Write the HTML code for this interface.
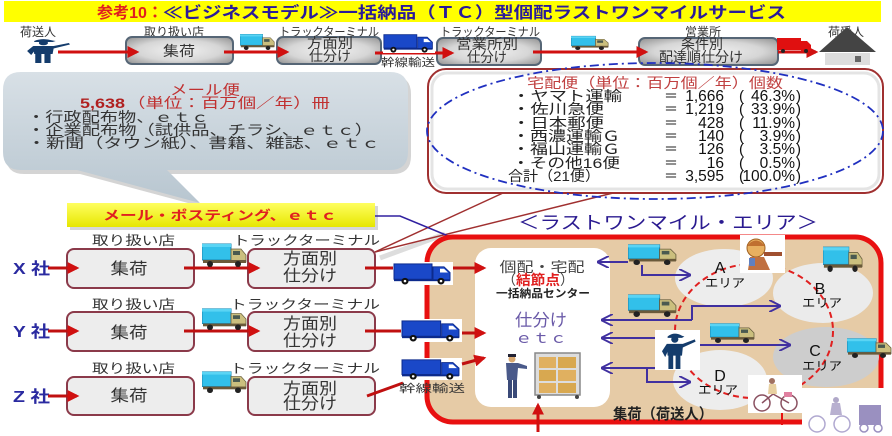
<!DOCTYPE html>
<html><head><meta charset="utf-8"><style>
html,body{margin:0;padding:0;background:#fff;}
svg{display:block;}
text{font-family:"Liberation Sans","Noto Sans CJK JP",sans-serif;}
</style></head><body>
<svg width="892" height="436" viewBox="0 0 892 436" xmlns="http://www.w3.org/2000/svg">
<defs>
  <radialGradient id="gbox" cx="50%" cy="50%" r="65%">
    <stop offset="0" stop-color="#f2f2f2"/><stop offset="0.6" stop-color="#d6d6d6"/><stop offset="1" stop-color="#9a9a9a"/>
  </radialGradient>
  <linearGradient id="gbub" x1="0" y1="0" x2="0" y2="1">
    <stop offset="0" stop-color="#d8e0e6"/><stop offset="1" stop-color="#b8c6d0"/>
  </linearGradient>
  <linearGradient id="gyel" x1="0" y1="0" x2="0" y2="1">
    <stop offset="0" stop-color="#ffff60"/><stop offset="1" stop-color="#e6e600"/>
  </linearGradient>
  <marker id="ar" viewBox="0 0 10 10" refX="8" refY="5" markerWidth="4" markerHeight="4" orient="auto-start-reverse">
    <path d="M0,0 L10,5 L0,10 Z" fill="#d01010"/>
  </marker>
  <marker id="ap" viewBox="0 0 10 10" refX="9" refY="5" markerWidth="6" markerHeight="6" orient="auto-start-reverse">
    <path d="M0,0 L10,5 L0,10" fill="none" stroke="#4030a0" stroke-width="1.6"/>
  </marker>
  <symbol id="ctruck" viewBox="0 0 45 25" preserveAspectRatio="none">
    <rect x="0" y="2" width="29" height="16" fill="#32c0ea" stroke="#1a86b0" stroke-width="1"/>
    <rect x="0" y="2" width="29" height="3" fill="#5ad4f4"/>
    <path d="M29,7 H39 L44,13 V20 H29 Z" fill="#cbbf7e" stroke="#6a6040" stroke-width="0.8"/>
    <rect x="31" y="9" width="7" height="4" fill="#4a5a50"/>
    <rect x="1" y="18" width="43" height="3" fill="#6a5a3a"/>
    <circle cx="8" cy="22" r="3" fill="#222"/><circle cx="36" cy="22" r="3" fill="#222"/>
  </symbol>
  <symbol id="btruck" viewBox="0 0 60 24" preserveAspectRatio="none">
    <rect x="0" y="0" width="60" height="24" fill="#fff"/>
    <rect x="1" y="2" width="38" height="16" fill="#1a48c8" stroke="#0c2a8c" stroke-width="1"/>
    <path d="M40,5 H51 L57,11 V19 H40 Z" fill="#1a48c8" stroke="#0c2a8c" stroke-width="1"/>
    <path d="M47,7 H51 L55,11 H47 Z" fill="#fff"/>
    <rect x="1" y="18" width="56" height="2" fill="#0c2a8c"/>
    <circle cx="12" cy="20" r="3.5" fill="#111"/><circle cx="12" cy="20" r="1.3" fill="#fff"/>
    <circle cx="48" cy="20" r="3.5" fill="#111"/><circle cx="48" cy="20" r="1.3" fill="#fff"/>
  </symbol>
  <symbol id="person" viewBox="0 0 50 50" preserveAspectRatio="none">
    <path d="M12,6 Q20,-1 30,5 L33,6 L30,8 L12,8 Z" fill="#143c6c"/>
    <circle cx="21" cy="10" r="4.5" fill="#143c6c"/>
    <path d="M11,16 H31 L46,10 L47,13 L31,21 L30,32 H12 Z" fill="#143c6c"/>
    <path d="M11,16 L5,26 L9,34 L13,24 Z" fill="#143c6c"/>
    <rect x="13" y="31" width="6" height="19" fill="#143c6c"/>
    <rect x="22" y="31" width="6" height="19" fill="#143c6c"/>
  </symbol>
</defs>

<!-- Title -->
<rect x="4" y="1" width="877" height="21" fill="#ffff00"/>
<text x="97" y="18" font-size="16" font-weight="bold" fill="#e02020" textLength="66" lengthAdjust="spacingAndGlyphs">参考10：</text>
<text x="163" y="18" font-size="16" font-weight="bold" fill="#2a1a9a" textLength="623" lengthAdjust="spacingAndGlyphs">≪ビジネスモデル≫一括納品（ＴＣ）型個配ラストワンマイルサービス</text>

<!-- Top flow -->
<g font-size="12" fill="#333" text-anchor="middle">
  <text x="38" y="36">荷送人</text>
  <text x="174" y="36" textLength="60" lengthAdjust="spacingAndGlyphs">取り扱い店</text>
  <text x="329" y="36" textLength="100" lengthAdjust="spacingAndGlyphs">トラックターミナル</text>
  <text x="490" y="36" textLength="100" lengthAdjust="spacingAndGlyphs">トラックターミナル</text>
  <text x="703" y="36">営業所</text>
  <text x="846" y="36">荷受人</text>
</g>
<use href="#person" x="22" y="38" width="51" height="25"/>
<rect x="126" y="37" width="107" height="27" rx="6" fill="url(#gbox)" stroke="#566676" stroke-width="2"/>
<rect x="277" y="37" width="104" height="27" rx="6" fill="url(#gbox)" stroke="#566676" stroke-width="2"/>
<rect x="437" y="38" width="104" height="27" rx="6" fill="url(#gbox)" stroke="#566676" stroke-width="2"/>
<rect x="639" y="38" width="139" height="27" rx="6" fill="url(#gbox)" stroke="#566676" stroke-width="2"/>
<g font-size="14" fill="#333" text-anchor="middle">
  <text x="179" y="56" textLength="32" lengthAdjust="spacingAndGlyphs">集荷</text>
  <text x="330" y="48" textLength="46" lengthAdjust="spacingAndGlyphs">方面別</text>
  <text x="330" y="61" textLength="42" lengthAdjust="spacingAndGlyphs">仕分け</text>
  <text x="487" y="49" textLength="62" lengthAdjust="spacingAndGlyphs">営業所別</text>
  <text x="487" y="62" textLength="40" lengthAdjust="spacingAndGlyphs">仕分け</text>
  <text x="702" y="49" textLength="42" lengthAdjust="spacingAndGlyphs">条件別</text>
  <text x="701" y="62" textLength="84" lengthAdjust="spacingAndGlyphs">配達順仕分け</text>
</g>
<g stroke="#d01010" stroke-width="3" fill="none" marker-end="url(#ar)">
  <line x1="58" y1="52" x2="137" y2="52"/>
  <line x1="224" y1="52" x2="287" y2="52"/>
  <line x1="375" y1="53" x2="452" y2="53"/>
  <line x1="533" y1="52" x2="646" y2="52"/>
  <line x1="778" y1="52" x2="816" y2="52"/>
</g>
<use href="#ctruck" x="240" y="33" width="35" height="17"/>
<use href="#btruck" x="383" y="33" width="52" height="20"/>
<text x="408" y="66" font-size="11" fill="#333" text-anchor="middle" textLength="54" lengthAdjust="spacingAndGlyphs">幹線輸送</text>
<use href="#ctruck" x="571" y="35" width="38" height="15"/>
<!-- red truck -->
<rect x="777" y="38" width="24" height="12" fill="#e01010"/>
<path d="M801,41 H807 L811,45 V51 H801 Z" fill="#e01010"/>
<circle cx="783" cy="51" r="2" fill="#222"/><circle cx="806" cy="51" r="2" fill="#222"/>
<!-- house -->
<path d="M819,52 L847,27 L876,52 Z" fill="#444"/>
<rect x="825" y="53" width="45" height="12" fill="#ddd"/>
<rect x="855" y="56" width="6" height="6" fill="#666"/>

<!-- Left bubble -->
<path d="M24,76 H393 Q411,76 411,94 V156 Q411,174 393,174 H170 L203,207 L80,174 H24 Q6,174 6,156 V94 Q6,76 24,76 Z" fill="#b8b8b8" opacity="0.6"/>
<path d="M21,72 H390 Q408,72 408,90 V152 Q408,170 390,170 H167 L200,203 L77,170 H21 Q3,170 3,152 V90 Q3,72 21,72 Z" fill="url(#gbub)"/>
<text x="205" y="95" font-size="14" fill="#c03030" text-anchor="middle" textLength="70" lengthAdjust="spacingAndGlyphs">メール便</text>
<text x="80" y="108" font-size="14" font-weight="bold" fill="#b02020" textLength="45" lengthAdjust="spacingAndGlyphs">5,638</text>
<text x="127" y="108" font-size="14" fill="#c03030" textLength="203" lengthAdjust="spacingAndGlyphs">（単位：百万個／年）冊</text>
<g font-size="14" fill="#333">
  <text x="27" y="122" textLength="182" lengthAdjust="spacingAndGlyphs">・行政配布物、ｅｔｃ</text>
  <text x="27" y="135" textLength="346" lengthAdjust="spacingAndGlyphs">・企業配布物（試供品、チラシ、ｅｔｃ）</text>
  <text x="27" y="148" textLength="353" lengthAdjust="spacingAndGlyphs">・新聞（タウン紙）、書籍、雑誌、ｅｔｃ</text>
</g>

<!-- yellow box -->
<rect x="70" y="206" width="308" height="24" fill="#bbb" opacity="0.6"/>
<rect x="67" y="203" width="308" height="24" fill="url(#gyel)"/>
<text x="103" y="220" font-size="13" font-weight="bold" fill="#e02020" textLength="234" lengthAdjust="spacingAndGlyphs">メール・ポスティング、ｅｔｃ</text>

<!-- Right bubble -->
<rect x="428" y="69" width="455" height="124" rx="18" fill="#fff" stroke="#a03030" stroke-width="2"/>
<rect x="432" y="73" width="447" height="116" rx="15" fill="none" stroke="#e4e4e4" stroke-width="3"/>
<line x1="380" y1="258" x2="445" y2="234" stroke="#ddd" stroke-width="5"/>
<line x1="375" y1="252" x2="503" y2="193" stroke="#a03030" stroke-width="1.5"/>
<line x1="375" y1="252" x2="613" y2="193" stroke="#a03030" stroke-width="1.5"/>
<ellipse cx="655" cy="131" rx="228" ry="68" fill="none" stroke="#2030c0" stroke-width="1.8" stroke-dasharray="9 4 2 4"/>
<text x="527" y="88" font-size="14" fill="#c04040" textLength="256" lengthAdjust="spacingAndGlyphs">宅配便（単位：百万個／年）個数</text>
<g font-size="14" fill="#222">
  <text x="512" y="101" textLength="110" lengthAdjust="spacingAndGlyphs">・ヤマト運輸</text>
  <text x="512" y="114" textLength="92" lengthAdjust="spacingAndGlyphs">・佐川急便</text>
  <text x="512" y="128" textLength="92" lengthAdjust="spacingAndGlyphs">・日本郵便</text>
  <text x="512" y="141" textLength="108" lengthAdjust="spacingAndGlyphs">・西濃運輸Ｇ</text>
  <text x="512" y="154" textLength="108" lengthAdjust="spacingAndGlyphs">・福山運輸Ｇ</text>
  <text x="512" y="168" textLength="108" lengthAdjust="spacingAndGlyphs">・その他16便</text>
  <text x="508" y="181" textLength="92" lengthAdjust="spacingAndGlyphs">合計（21便）</text>
</g>
<g font-size="14" fill="#222">
  <text x="664" y="101">＝</text><text x="664" y="114">＝</text><text x="664" y="128">＝</text>
  <text x="664" y="141">＝</text><text x="664" y="154">＝</text><text x="664" y="168">＝</text><text x="664" y="181">＝</text>
</g>
<g font-size="15.5" fill="#111" text-anchor="end" style="font-family:'DejaVu Sans',sans-serif">
  <text x="724" y="101">1,666</text>
  <text x="724" y="114">1,219</text>
  <text x="724" y="128">428</text>
  <text x="724" y="141">140</text>
  <text x="724" y="154">126</text>
  <text x="724" y="168">16</text>
  <text x="724" y="181">3,595</text>
  <text x="795" y="101">46.3%</text>
  <text x="795" y="114">33.9%</text>
  <text x="795" y="128">11.9%</text>
  <text x="795" y="141">3.9%</text>
  <text x="795" y="154">3.5%</text>
  <text x="795" y="168">0.5%</text>
  <text x="795" y="181">100.0%</text>
</g>
<g font-size="15" fill="#111">
  <text x="739" y="101">(</text><text x="739" y="114">(</text><text x="739" y="128">(</text><text x="739" y="141">(</text>
  <text x="739" y="154">(</text><text x="739" y="168">(</text><text x="739" y="181">(</text>
  <text x="796" y="101">)</text><text x="796" y="114">)</text><text x="796" y="128">)</text><text x="796" y="141">)</text>
  <text x="796" y="154">)</text><text x="796" y="168">)</text><text x="796" y="181">)</text>
</g>
<text x="518" y="229" font-size="18" fill="#2a1a90" textLength="300" lengthAdjust="spacingAndGlyphs">＜ラストワンマイル・エリア＞</text>

<!-- Rows -->
<g font-size="13" fill="#333">
  <text x="92" y="245" textLength="83" lengthAdjust="spacingAndGlyphs">取り扱い店</text>
  <text x="233" y="245" textLength="147" lengthAdjust="spacingAndGlyphs">トラックターミナル</text>
  <text x="92" y="309" textLength="83" lengthAdjust="spacingAndGlyphs">取り扱い店</text>
  <text x="230" y="309" textLength="150" lengthAdjust="spacingAndGlyphs">トラックターミナル</text>
  <text x="92" y="373" textLength="83" lengthAdjust="spacingAndGlyphs">取り扱い店</text>
  <text x="230" y="373" textLength="150" lengthAdjust="spacingAndGlyphs">トラックターミナル</text>
</g>
<g fill="#ededed" stroke="#8b3a4a" stroke-width="2">
  <rect x="67" y="249" width="127" height="39" rx="7"/>
  <rect x="248" y="249" width="127" height="39" rx="7"/>
  <rect x="67" y="312" width="127" height="39" rx="7"/>
  <rect x="248" y="312" width="127" height="39" rx="7"/>
  <rect x="67" y="377" width="127" height="38" rx="7"/>
  <rect x="248" y="377" width="127" height="38" rx="7"/>
</g>
<g font-size="16" fill="#333" text-anchor="middle">
  <text x="129" y="274" textLength="37" lengthAdjust="spacingAndGlyphs">集荷</text>
  <text x="310" y="264" textLength="54" lengthAdjust="spacingAndGlyphs">方面別</text>
  <text x="310" y="281" textLength="54" lengthAdjust="spacingAndGlyphs">仕分け</text>
  <text x="129" y="338" textLength="37" lengthAdjust="spacingAndGlyphs">集荷</text>
  <text x="310" y="329" textLength="54" lengthAdjust="spacingAndGlyphs">方面別</text>
  <text x="310" y="346" textLength="54" lengthAdjust="spacingAndGlyphs">仕分け</text>
  <text x="129" y="401" textLength="37" lengthAdjust="spacingAndGlyphs">集荷</text>
  <text x="310" y="394" textLength="54" lengthAdjust="spacingAndGlyphs">方面別</text>
  <text x="310" y="409" textLength="54" lengthAdjust="spacingAndGlyphs">仕分け</text>
</g>
<g font-size="16" font-weight="bold" fill="#2a2aa0">
  <text x="13" y="274" textLength="37" lengthAdjust="spacingAndGlyphs">X 社</text>
  <text x="13" y="337" textLength="37" lengthAdjust="spacingAndGlyphs">Y 社</text>
  <text x="13" y="402" textLength="37" lengthAdjust="spacingAndGlyphs">Z 社</text>
</g>
<g stroke="#c01010" stroke-width="3" fill="none" marker-end="url(#ar)">
  <line x1="48" y1="268" x2="77" y2="268"/>
  <line x1="48" y1="331" x2="77" y2="331"/>
  <line x1="48" y1="396" x2="77" y2="396"/>
  <line x1="184" y1="268" x2="258" y2="268"/>
  <line x1="184" y1="331" x2="258" y2="331"/>
</g>
<g stroke="#c01010" stroke-width="3" fill="none">
  <line x1="365" y1="268" x2="396" y2="268"/>
  <line x1="365" y1="331" x2="402" y2="331"/>
  <line x1="367" y1="396" x2="403" y2="383"/>
</g>
<use href="#ctruck" x="202" y="242" width="45" height="25"/>
<use href="#ctruck" x="202" y="307" width="45" height="23"/>
<use href="#ctruck" x="202" y="370" width="45" height="23"/>

<!-- blue arrow from yellow box -->
<polyline points="375,216 400,216 487,252" fill="none" stroke="#3020a0" stroke-width="1.5" marker-end="url(#ap)"/>

<!-- Red area -->
<rect x="427" y="237" width="454" height="185" rx="26" fill="#e6cba6" stroke="#e81010" stroke-width="5"/>
<line x1="782" y1="413" x2="782" y2="425" stroke="#e81010" stroke-width="2"/>
<!-- zones -->
<ellipse cx="724" cy="278" rx="49" ry="29" fill="#ededed"/>
<ellipse cx="823" cy="293" rx="50" ry="30" fill="#ebebeb"/>
<ellipse cx="826" cy="357" rx="53" ry="30" fill="#cdcdcd"/>
<ellipse cx="720" cy="380" rx="47" ry="30" fill="#ededed"/>
<ellipse cx="754" cy="331" rx="79" ry="67" fill="none" stroke="#e02020" stroke-width="2" stroke-dasharray="6 4"/>
<g font-size="16" fill="#111" text-anchor="middle">
  <text x="720" y="273">A</text>
  <text x="820" y="294">B</text>
  <text x="815" y="356">C</text>
  <text x="720" y="381">D</text>
</g>
<g font-size="12" fill="#111" text-anchor="middle">
  <text x="725" y="287" textLength="40" lengthAdjust="spacingAndGlyphs">エリア</text>
  <text x="822" y="307" textLength="40" lengthAdjust="spacingAndGlyphs">エリア</text>
  <text x="822" y="370" textLength="40" lengthAdjust="spacingAndGlyphs">エリア</text>
  <text x="718" y="394" textLength="40" lengthAdjust="spacingAndGlyphs">エリア</text>
</g>

<!-- center white box -->
<rect x="475" y="248" width="135" height="159" rx="16" fill="#fff"/>
<text x="542" y="272" font-size="14" fill="#444" text-anchor="middle" textLength="85" lengthAdjust="spacingAndGlyphs">個配・宅配</text>
<text x="502" y="285" font-size="14" fill="#444">（</text>
<text x="516" y="285" font-size="14" font-weight="bold" fill="#e02020" textLength="44" lengthAdjust="spacingAndGlyphs">結節点</text>
<text x="560" y="285" font-size="14" fill="#444">）</text>
<text x="543" y="297" font-size="11" font-weight="bold" fill="#222" text-anchor="middle" textLength="94" lengthAdjust="spacingAndGlyphs">一括納品センター</text>
<text x="541" y="326" font-size="17" fill="#6a5aa8" text-anchor="middle" textLength="52" lengthAdjust="spacingAndGlyphs">仕分け</text>
<text x="541" y="343" font-size="15" fill="#6a5aa8" text-anchor="middle" textLength="52" lengthAdjust="spacingAndGlyphs">ｅｔｃ</text>
<!-- worker -->
<circle cx="512" cy="359" r="3.5" fill="#d8a870"/>
<rect x="508" y="354" width="8" height="3" fill="#223"/>
<path d="M506,363 H518 L527,366 L527,369 L518,368 L517,380 H507 Z" fill="#4a5a8a"/>
<rect x="508" y="380" width="4" height="18" fill="#3a4a78"/><rect x="513" y="380" width="4" height="18" fill="#3a4a78"/>
<!-- cart -->
<rect x="535" y="353" width="45" height="42" fill="#ddd" stroke="#888" stroke-width="1.5"/>
<rect x="539" y="357" width="17" height="11" fill="#e0b060"/><rect x="558" y="357" width="18" height="11" fill="#d8a850"/>
<rect x="539" y="370" width="17" height="11" fill="#d8a850"/><rect x="558" y="370" width="18" height="11" fill="#e0b060"/>
<rect x="539" y="383" width="17" height="10" fill="#e0b060"/><rect x="558" y="383" width="18" height="10" fill="#d8a850"/>
<circle cx="539" cy="397" r="2" fill="#444"/><circle cx="577" cy="397" r="2" fill="#444"/>
<line x1="538" y1="432" x2="538" y2="405" stroke="#d01010" stroke-width="3" marker-end="url(#ar)"/>

<!-- blue trucks & arrows into center -->
<use href="#btruck" x="393" y="262" width="60" height="23"/>
<use href="#btruck" x="401" y="319" width="61" height="23"/>
<use href="#btruck" x="401" y="358" width="61" height="22"/>
<text x="432" y="392" font-size="11" fill="#333" text-anchor="middle" textLength="66" lengthAdjust="spacingAndGlyphs">幹線輸送</text>
<g stroke="#c01010" stroke-width="3" fill="none" marker-end="url(#ar)">
  <line x1="453" y1="268" x2="484" y2="268"/>
  <line x1="462" y1="333" x2="484" y2="333"/>
  <line x1="462" y1="364" x2="484" y2="358"/>
</g>

<!-- purple arrows -->
<g stroke="#4030a0" stroke-width="2" fill="none" marker-end="url(#ap)">
  <line x1="628" y1="262" x2="598" y2="262"/>
  <polyline points="642,265 642,275 690,275"/>
  <line x1="692" y1="320" x2="602" y2="320"/>
  <polyline points="692,320 692,306 780,306"/>
  <line x1="655" y1="338" x2="602" y2="338"/>
  <line x1="700" y1="345" x2="790" y2="345"/>
  <line x1="655" y1="368" x2="602" y2="368"/>
  <polyline points="647,368 647,382 690,382"/>
</g>

<!-- trucks in area -->
<use href="#ctruck" x="628" y="243" width="49" height="22"/>
<use href="#ctruck" x="628" y="293" width="49" height="24"/>
<use href="#ctruck" x="710" y="322" width="45" height="21"/>
<use href="#ctruck" x="823" y="245" width="40" height="27"/>
<use href="#ctruck" x="847" y="337" width="45" height="21"/>

<!-- pointing person -->
<rect x="655" y="330" width="45" height="40" fill="#fff"/>
<use href="#person" x="658" y="332" width="40" height="37"/>

<!-- child -->
<rect x="740" y="235" width="45" height="38" fill="#fff"/>
<circle cx="756" cy="248" r="9" fill="#e8b060" stroke="#a06020" stroke-width="1"/>
<path d="M747,246 Q756,235 765,246" fill="#c07030"/>
<path d="M750,257 H764 L770,270 H748 Z" fill="#c07040"/>
<rect x="764" y="252" width="18" height="4" fill="#a05030"/>
<rect x="749" y="258" width="6" height="8" fill="#6080c0"/>

<!-- bicycle woman -->
<rect x="748" y="375" width="54" height="38" fill="#fff"/>
<circle cx="762" cy="403" r="8" fill="none" stroke="#8a5060" stroke-width="1.5"/>
<circle cx="789" cy="403" r="8" fill="none" stroke="#8a5060" stroke-width="1.5"/>
<path d="M762,403 L773,394 L789,403 M773,394 L770,386" stroke="#8a5060" stroke-width="1.5" fill="none"/>
<circle cx="772" cy="381" r="3" fill="#a07060"/>
<path d="M769,384 H776 L777,394 H768 Z" fill="#e8d0a0"/>
<rect x="784" y="392" width="8" height="5" fill="#e080a0"/>

<!-- bicycle with cart (faded) -->
<rect x="802" y="388" width="90" height="48" fill="#fff"/>
<circle cx="817" cy="424" r="8" fill="none" stroke="#b0a8d0" stroke-width="1.5"/>
<circle cx="842" cy="424" r="8" fill="none" stroke="#b0a8d0" stroke-width="1.5"/>
<circle cx="836" cy="400" r="3" fill="#b0a8c8"/>
<path d="M832,403 H840 L842,415 H830 Z" fill="#b8b0d0"/>
<rect x="859" y="405" width="22" height="20" fill="#9a90c0"/>
<circle cx="864" cy="428" r="4" fill="none" stroke="#9a90c0" stroke-width="1.5"/>
<circle cx="878" cy="428" r="4" fill="none" stroke="#9a90c0" stroke-width="1.5"/>

<text x="613" y="419" font-size="15" font-weight="bold" fill="#222" textLength="100" lengthAdjust="spacingAndGlyphs">集荷（荷送人）</text>
</svg>
</body></html>
